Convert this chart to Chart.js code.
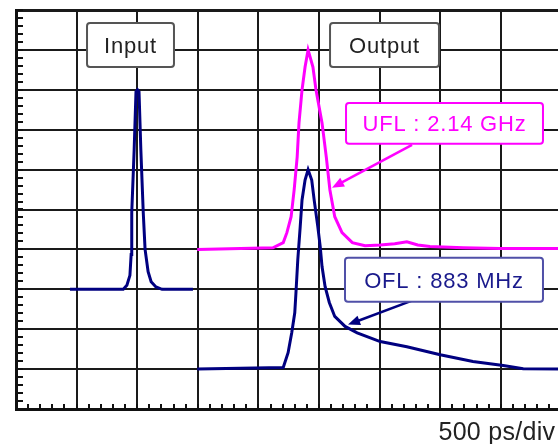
<!DOCTYPE html>
<html>
<head>
<meta charset="utf-8">
<script src="https://cdn.jsdelivr.net/npm/chart.js@4.4.1/dist/chart.umd.min.js"></script>
<style>
    html, body { margin: 0; padding: 0; background: #fff; overflow: hidden; }
    #scope { display: block; }
</style>
</head>
<body>
<canvas id="scope" width="572" height="444"></canvas>
<script>
// Zeit in Divisionen (500 ps/div), Pegel in Divisionen vom unteren Rand
const inputTime  = [0.89, 1.77, 1.83, 1.88, 1.90, 1.91, 1.95, 1.98, 2.005, 2.03, 2.06, 2.10, 2.13, 2.18, 2.23, 2.31, 2.41, 2.92];
const inputLevel = [3.0, 3.0, 3.1, 3.35, 3.87, 4.92, 6.5, 7.95, 8.0, 7.95, 6.5, 4.92, 4.0, 3.44, 3.19, 3.06, 3.0, 3.0];

const uflTime  = [2.99, 4.24, 4.41, 4.47, 4.54, 4.59, 4.64, 4.67, 4.72, 4.77, 4.82, 4.90, 4.95, 5.05, 5.12, 5.18, 5.26, 5.38, 5.55, 5.76, 6.01, 6.25, 6.45, 6.63, 6.83, 7.38, 7.99, 9.0];
const uflLevel = [4.0, 4.04, 4.17, 4.42, 4.82, 5.49, 6.32, 7.17, 8.0, 8.57, 9.0, 8.57, 8.0, 7.17, 6.32, 5.49, 4.82, 4.42, 4.17, 4.09, 4.11, 4.14, 4.19, 4.11, 4.07, 4.04, 4.02, 4.02];

const oflTime  = [2.99, 4.41, 4.49, 4.55, 4.60, 4.62, 4.65, 4.69, 4.72, 4.77, 4.82, 4.88, 4.92, 4.98, 5.02, 5.05, 5.10, 5.17, 5.26, 5.43, 5.63, 6.01, 6.45, 7.00, 7.54, 8.04, 8.37, 9.0];
const oflLevel = [1.0, 1.04, 1.41, 1.91, 2.41, 2.92, 3.74, 4.57, 5.24, 5.74, 6.0, 5.74, 5.24, 4.57, 4.07, 3.57, 3.07, 2.67, 2.32, 2.07, 1.91, 1.69, 1.56, 1.36, 1.19, 1.09, 1.01, 1.0];

const xDivisions = 9;
const yDivisions = 10;
const scaleLabel = "500 ps/div";

// Beschriftungen: Kasten (x1, y1, x2, y2) und optionaler Pfeil, alles in Divisionen
const notes = [
    { text: "Input",          box: [1.172, 9.675, 2.607, 8.573], textColor: "#222222", border: "#555555" },
    { text: "Output",         box: [5.182, 9.675, 6.980, 8.573], textColor: "#222222", border: "#555555" },
    { text: "UFL : 2.14 GHz", box: [5.446, 7.672, 8.696, 6.646], textColor: "#ff00ff", border: "#ff00ff",
      arrow: [6.535, 6.621, 5.215, 5.545], arrowColor: "#ff00ff" },
    { text: "OFL : 883 MHz",  box: [5.429, 3.792, 8.696, 2.691], textColor: "#1a1a8c", border: "#5050a8",
      arrow: [6.535, 2.716, 5.479, 2.115], arrowColor: "#000080" }
];

const toPoints = (xs, ys) => xs.map((v, i) => ({ x: v, y: ys[i] }));

const scopeDecor = {
    id: "scopeDecor",
    beforeDatasetsDraw(chart) {
        // kleine Teilstriche an linker und unterer Achse
        const { ctx, chartArea: a, scales: { x, y } } = chart;
        ctx.save();
        ctx.strokeStyle = "#111111";
        ctx.lineWidth = 2;
        ctx.beginPath();
        for (let v = 0; v <= yDivisions + 0.001; v += 0.2) {
            const py = Math.round(y.getPixelForValue(v));
            ctx.moveTo(a.left, py);
            ctx.lineTo(a.left + 7, py);
        }
        for (let d = 0; d <= xDivisions + 0.001; d += 0.2) {
            const px = Math.round(x.getPixelForValue(d));
            ctx.moveTo(px, a.bottom);
            ctx.lineTo(px, a.bottom - 5);
        }
        ctx.stroke();
        ctx.restore();
    },
    afterDatasetsDraw(chart) {
        const { ctx, chartArea: a, scales: { x, y } } = chart;
        ctx.save();
        ctx.font = "22px 'Liberation Sans', Arial, sans-serif";
        ctx.letterSpacing = "0.8px";
        ctx.textAlign = "center";
        ctx.textBaseline = "alphabetic";

        notes.forEach(n => {
            const x1 = x.getPixelForValue(n.box[0]), y1 = y.getPixelForValue(n.box[1]);
            const x2 = x.getPixelForValue(n.box[2]), y2 = y.getPixelForValue(n.box[3]);

            if (n.arrow) {
                const sx = x.getPixelForValue(n.arrow[0]), sy = y.getPixelForValue(n.arrow[1]);
                const tx = x.getPixelForValue(n.arrow[2]), ty = y.getPixelForValue(n.arrow[3]);
                const ang = Math.atan2(ty - sy, tx - sx);
                const len = 12, half = 5;
                ctx.strokeStyle = n.arrowColor;
                ctx.fillStyle = n.arrowColor;
                ctx.lineWidth = 2.5;
                ctx.beginPath();
                ctx.moveTo(sx, sy);
                ctx.lineTo(tx - Math.cos(ang) * len * 0.8, ty - Math.sin(ang) * len * 0.8);
                ctx.stroke();
                ctx.beginPath();
                ctx.moveTo(tx, ty);
                ctx.lineTo(tx - Math.cos(ang) * len - Math.sin(ang) * half, ty - Math.sin(ang) * len + Math.cos(ang) * half);
                ctx.lineTo(tx - Math.cos(ang) * len + Math.sin(ang) * half, ty - Math.sin(ang) * len - Math.cos(ang) * half);
                ctx.closePath();
                ctx.fill();
            }

            ctx.fillStyle = "#ffffff";
            ctx.strokeStyle = n.border;
            ctx.lineWidth = 2;
            ctx.beginPath();
            ctx.roundRect(x1, y1, x2 - x1, y2 - y1, 3);
            ctx.fill();
            ctx.stroke();

            ctx.fillStyle = n.textColor;
            ctx.fillText(n.text, (x1 + x2) / 2, (y1 + y2) / 2 + 8);
        });

        // Zeitbasis unten rechts
        ctx.font = "25px 'Liberation Sans', Arial, sans-serif";
        ctx.letterSpacing = "0.3px";
        ctx.textAlign = "right";
        ctx.fillStyle = "#222222";
        ctx.fillText(scaleLabel, x.getPixelForValue(xDivisions) - 6, a.bottom + 31);
        ctx.restore();
    }
};

const traceStyle = (color) => ({
    borderColor: color,
    borderWidth: 3,
    pointRadius: 0,
    tension: 0,
    fill: false
});

new Chart(document.getElementById("scope"), {
    type: "line",
    data: {
        datasets: [
            { label: "Input", data: toPoints(inputTime, inputLevel), ...traceStyle("#000080") },
            { label: "UFL", data: toPoints(uflTime, uflLevel), ...traceStyle("#ff00ff") },
            { label: "OFL", data: toPoints(oflTime, oflLevel), ...traceStyle("#000080") }
        ]
    },
    options: {
        responsive: false,
        animation: false,
        events: [],
        layout: { padding: { left: 16, top: 10, right: 10.6, bottom: 35 } },
        plugins: { legend: { display: false }, tooltip: { enabled: false } },
        scales: {
            x: {
                type: "linear",
                min: 0,
                max: xDivisions,
                ticks: { display: false, stepSize: 1 },
                grid: { color: "#1a1a1a", lineWidth: 2, drawTicks: false },
                border: { color: "#111111", width: 3 }
            },
            y: {
                type: "linear",
                min: 0,
                max: yDivisions,
                ticks: { display: false, stepSize: 1 },
                grid: {
                    color: "#1a1a1a",
                    lineWidth: c => (c.tick && c.tick.value === yDivisions ? 3 : 2),
                    drawTicks: false
                },
                border: { color: "#111111", width: 3 }
            }
        }
    },
    plugins: [scopeDecor]
});
</script>
</body>
</html>
